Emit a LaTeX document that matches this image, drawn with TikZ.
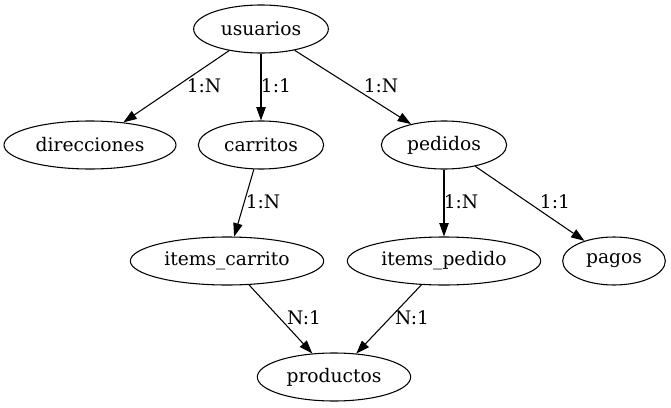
\documentclass[tikz,border=0pt]{standalone}
\usepackage{fontspec}
\setmainfont{DejaVu Serif}
\usetikzlibrary{shapes.geometric,arrows.meta}
\begin{document}
\begin{tikzpicture}[x=0.75pt,y=-0.75pt,
  ent/.style={draw,ellipse,inner sep=0pt,minimum height=36pt,line width=0.8pt,font=\fontsize{14}{16}\selectfont},
  edge/.style={-{Triangle[length=10pt,width=7pt]},line width=0.8pt},
  lbl/.style={inner sep=0pt,font=\fontsize{14}{16}\selectfont}]
\useasboundingbox (0,0) rectangle (671,407);
\node[ent,minimum width=101pt] (usuarios) at (261,29) {usuarios};
\node[ent,minimum width=129pt] (direcciones) at (90,145) {direcciones};
\node[ent,minimum width=94pt] (carritos) at (261,145) {carritos};
\node[ent,minimum width=94pt] (pedidos) at (444,145) {pedidos};
\node[ent,minimum width=145pt] (items_carrito) at (227,261) {items\_carrito};
\node[ent,minimum width=145pt] (items_pedido) at (444,261) {items\_pedido};
\node[ent,minimum width=77pt] (pagos) at (614,261) {pagos};
\node[ent,minimum width=115pt] (productos) at (334,377) {productos};
\draw[edge] (usuarios) -- (direcciones) node[lbl] at (204,86) {1:N};
\draw[edge] (usuarios) -- (carritos) node[lbl] at (276,86) {1:1};
\draw[edge] (usuarios) -- (pedidos) node[lbl] at (381,86) {1:N};
\draw[edge] (carritos) -- (items_carrito) node[lbl] at (263,202) {1:N};
\draw[edge] (pedidos) -- (items_pedido) node[lbl] at (461,202) {1:N};
\draw[edge] (pedidos) -- (pagos) node[lbl] at (555,202) {1:1};
\draw[edge] (items_carrito) -- (productos) node[lbl] at (304,318) {N:1};
\draw[edge] (items_pedido) -- (productos) node[lbl] at (412,318) {N:1};
\end{tikzpicture}
\end{document}
